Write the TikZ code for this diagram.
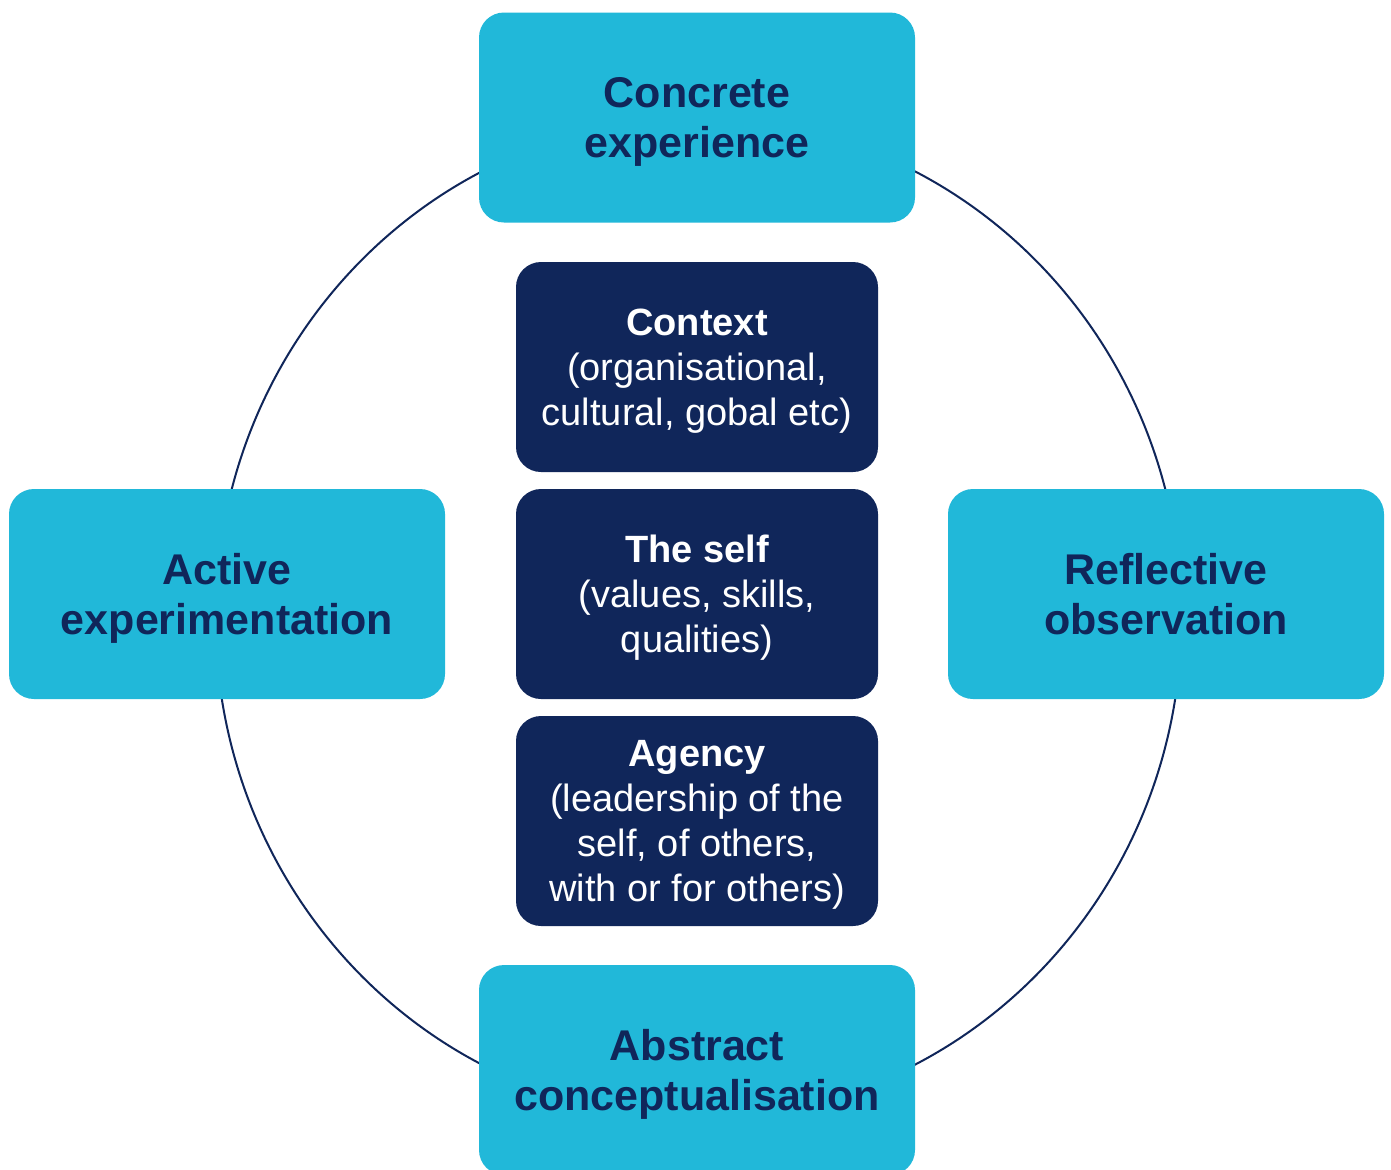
\documentclass[tikz,border=0pt]{standalone}
\usepackage{fontspec}
\setmainfont{Liberation Sans}
\definecolor{cyanbox}{HTML}{21B8D9}
\definecolor{navy}{HTML}{10265A}
\begin{document}
\begin{tikzpicture}[x=0.5pt,y=-0.5pt,
  stagebox/.style={fill=cyanbox, rounded corners=12.5pt, minimum width=218pt, minimum height=105pt,
    inner sep=0pt, text depth=0pt, align=center, text=navy, font=\fontsize{21.5}{25}\selectfont\bfseries},
  corebox/.style={fill=navy, rounded corners=12.5pt, minimum width=181pt, minimum height=105pt,
    inner sep=0pt, text depth=0pt, align=center, text=white, font=\fontsize{19}{22.5}\selectfont},
  ring/.style={draw=navy, line width=1pt}]
\clip (0,0) rectangle (1391,1169);
\fill[white] (0,0) rectangle (1391,1169);
\draw[ring] (698.5,618) ellipse [x radius=241.5pt, y radius=249.75pt];
\node[stagebox] (ce) at (697,117.5) {Concrete\\experience};
\node[stagebox] (ae) at (227,594) {Active\\experimentation};
\node[stagebox] (ro) at (1166,594) {Reflective\\observation};
\node[stagebox] (ac) at (697,1070) {Abstract\\conceptualisation};
\node[corebox] (ctx) at (697,367) {\textbf{Context}\\(organisational,\\cultural, gobal etc)};
\node[corebox] (self) at (697,594) {\textbf{The self}\\(values, skills,\\qualities)};
\node[corebox] (ag) at (697,821) {\textbf{Agency}\\(leadership of the\\self, of others,\\with or for others)};
\end{tikzpicture}
\end{document}
